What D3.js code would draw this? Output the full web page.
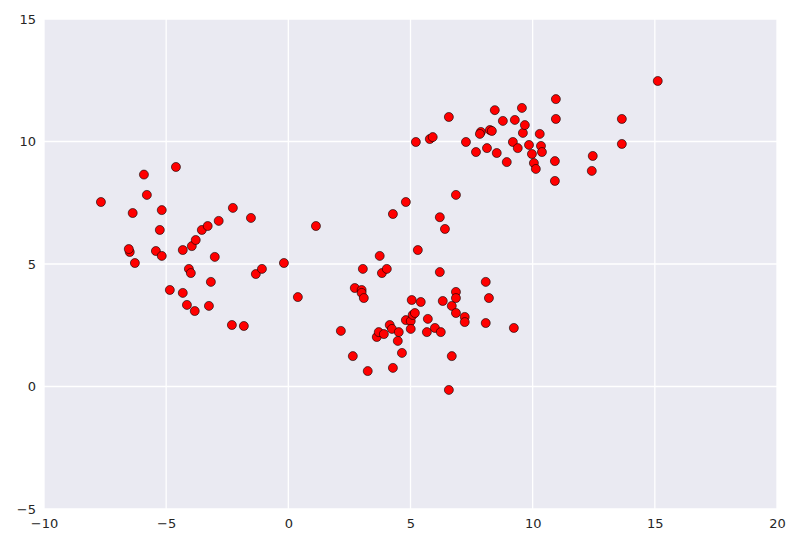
<!DOCTYPE html>
<html><head><meta charset="utf-8">
<script src="https://cdn.jsdelivr.net/npm/d3@7"></script>
<style>body{margin:0;background:#fff}</style>
</head><body><svg id="c" width="799" height="549"></svg>
<script>
// points, grouped by cluster
const leftX = [-7.67,-5.91,-5.79,-4.60,-6.37,-5.18,-6.49,-6.53,-5.26,-5.42,-5.18,-6.28,-4.85,-4.32,-4.15,-3.83,-4.07,-3.99,-4.32,-3.95,-3.79,-3.54,-3.30,-2.85,-2.27,-1.53,-3.01,-3.17,-3.25,-2.31,-1.82,-1.33,-1.08,-0.18,0.39,1.13];
const leftY = [7.53,8.65,7.82,8.96,7.08,7.20,5.49,5.61,6.39,5.53,5.33,5.04,3.94,3.82,3.33,3.08,4.80,4.63,5.57,5.73,5.98,6.39,6.55,6.76,7.29,6.88,5.29,4.27,3.29,2.51,2.47,4.59,4.80,5.04,3.65,6.55];
const midX = [2.15,2.64,3.25,2.72,3.00,3.00,3.09,3.05,3.74,3.83,4.03,3.62,3.70,3.91,4.15,4.24,4.52,4.48,4.65,4.28,4.28,4.81,5.05,4.81,5.01,5.09,5.01,5.18,5.30,5.42,5.67,5.71,6.00,6.24,6.32,6.20,6.41,6.20,6.57,6.69,6.69,6.86,6.86,6.86,7.22,7.22,8.08,8.21,8.08,9.23,6.86];
const midY = [2.27,1.24,0.63,4.02,3.94,3.82,3.61,4.80,5.33,4.63,4.80,2.02,2.22,2.14,2.51,2.35,2.22,1.86,1.37,0.76,7.04,7.53,3.53,2.71,2.67,2.92,2.35,3.00,5.57,3.45,2.22,2.76,2.39,2.22,3.49,4.67,6.43,6.91,-0.14,3.29,1.24,3.86,3.61,3.00,2.84,2.63,4.27,3.61,2.59,2.39,7.82];
const rightX = [5.22,5.79,5.91,6.57,7.27,7.68,7.88,7.84,8.25,8.33,8.45,8.13,8.53,8.78,8.94,9.19,9.27,9.39,9.56,9.60,9.68,9.85,9.97,10.05,10.13,10.29,10.34,10.38,10.95,10.95,10.91,10.91,12.46,12.42,13.65,13.65,15.12];
const rightY = [9.98,10.10,10.18,11.00,9.98,9.57,10.39,10.31,10.47,10.43,11.28,9.73,9.53,10.84,9.16,9.98,10.88,9.73,11.37,10.35,10.67,9.86,9.49,9.12,8.88,10.31,9.82,9.57,10.92,11.73,9.20,8.39,9.41,8.80,10.92,9.90,12.47];
const xTicks = [-10,-5,0,5,10,15,20];
const yTicks = [-5,0,5,10,15];

const pts = [];
[[leftX,leftY],[midX,midY],[rightX,rightY]].forEach(([xs,ys]) => xs.forEach((v,i) => pts.push([v, ys[i]])));

const svg = d3.select("#c");
const m = {l:44, r:22, t:19, b:40};
const W = 799, H = 549;
const x = d3.scaleLinear().domain([-10,20]).range([m.l, W-m.r]);
const y = d3.scaleLinear().domain([-5,15]).range([H-m.b, m.t]);

svg.append("rect").attr("x",m.l).attr("y",m.t)
  .attr("width",W-m.r-m.l).attr("height",H-m.b-m.t).attr("fill","#EAEAF2");

const g = svg.append("g");
g.selectAll("line.vx").data(xTicks).enter().append("line")
  .attr("x1",d=>x(d)).attr("x2",d=>x(d)).attr("y1",m.t).attr("y2",H-m.b)
  .attr("stroke","#fff").attr("stroke-width",1.3);
g.selectAll("line.hy").data(yTicks).enter().append("line")
  .attr("y1",d=>y(d)).attr("y2",d=>y(d)).attr("x1",m.l).attr("x2",W-m.r)
  .attr("stroke","#fff").attr("stroke-width",1.3);

const ax = svg.append("g").attr("transform",`translate(0,${H-m.b})`)
  .call(d3.axisBottom(x).tickValues(xTicks).tickSize(0).tickPadding(10));
const ay = svg.append("g").attr("transform",`translate(${m.l},0)`)
  .call(d3.axisLeft(y).tickValues(yTicks).tickSize(0).tickPadding(8));
[ax,ay].forEach(a => {
  a.select(".domain").remove();
  a.selectAll("text").attr("font-family","DejaVu Sans").attr("font-size",13).attr("fill","#262626");
});

svg.append("g").selectAll("circle").data(pts).enter().append("circle")
  .attr("cx",d=>x(d[0])).attr("cy",d=>y(d[1])).attr("r",4.5)
  .attr("fill","#ff0000").attr("stroke","#000").attr("stroke-width",0.6);
</script></body></html>
